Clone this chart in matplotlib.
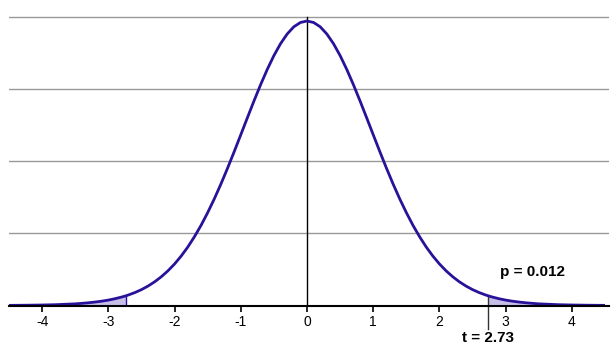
import numpy as np
import matplotlib
matplotlib.use("Agg")
import matplotlib.pyplot as plt

plt.rcParams['font.family'] = ['Liberation Sans', 'DejaVu Sans']

# density values (right half, mirrored for left)
x_half = [0.0, 0.1, 0.2, 0.3, 0.4, 0.5, 0.6, 0.7, 0.8, 0.9,
          1.0, 1.1, 1.2, 1.3, 1.4, 1.5, 1.6, 1.7, 1.8, 1.9,
          2.0, 2.1, 2.2, 2.3, 2.4, 2.5, 2.6, 2.7, 2.73, 2.8, 2.9,
          3.0, 3.1, 3.2, 3.3, 3.4, 3.5, 3.6, 3.7, 3.8, 3.9,
          4.0, 4.1, 4.2, 4.3, 4.4, 4.5]
y_half = [0.3946, 0.3925, 0.3865, 0.3765, 0.3631, 0.3466, 0.3275, 0.3064, 0.2839, 0.2605,
          0.2368, 0.2133, 0.1904, 0.1685, 0.1479, 0.1288, 0.1112, 0.0954, 0.0811, 0.0686,
          0.0576, 0.0481, 0.0399, 0.0329, 0.0270, 0.0220, 0.0179, 0.0145, 0.0136, 0.0117, 0.0094,
          0.0075, 0.0060, 0.0048, 0.0038, 0.0030, 0.0023, 0.0019, 0.0015, 0.0011, 0.0009,
          0.0007, 0.00056, 0.00043, 0.00034, 0.00026, 0.0002]
t_value = 2.73
p_label = "p = 0.012"
t_label = "t = 2.73"
xticks = [-4, -3, -2, -1, 0, 1, 2, 3, 4]
grid_y = [0.1, 0.2, 0.3, 0.4]

x = np.array([-v for v in x_half[::-1]] + x_half[1:])
y = np.array(y_half[::-1] + y_half[1:])

fig = plt.figure(figsize=(6.16, 3.6), dpi=100)
ax = fig.add_axes([9/616, 1 - 305.5/360, 600/616, 305.5/360])

for g in grid_y:
    ax.axhline(g, color='#999999', lw=1, zorder=1)

curve_col = '#2a1199'
fill_col = '#c6c0e8'
right = x >= t_value
left = x <= -t_value
ax.fill_between(x[right], 0, y[right], color=fill_col, lw=0, zorder=2)
ax.fill_between(x[left], 0, y[left], color=fill_col, lw=0, zorder=2)

ax.plot(x, y, color=curve_col, lw=2, zorder=4, solid_capstyle='butt')
ax.plot([0, 0], [0, 0.4], color='black', lw=1, zorder=3)
yt = y_half[x_half.index(t_value)]
ax.plot([-t_value, -t_value], [0, yt], color=curve_col, lw=1, zorder=3)
ax.plot([t_value, t_value], [-0.033, yt], color='#333333', lw=1, zorder=3,
        clip_on=False)

ax.set_xlim(-4.5, 4.56)
ax.set_ylim(0, 305.5/721)
for s in ['top', 'left', 'right']:
    ax.spines[s].set_visible(False)
ax.spines['bottom'].set_linewidth(1.5)
ax.spines['bottom'].set_zorder(5)
ax.set_yticks([])
ax.set_xticks(xticks)
ax.set_xticklabels([str(v) for v in xticks])
ax.tick_params(axis='x', direction='out', length=4, width=1.2, labelsize=10, pad=3)

ax.text(3.4, 0.046, p_label, fontsize=11, fontweight='bold', ha='center', va='center')
ax.text(t_value, -0.045, t_label, fontsize=11, fontweight='bold', ha='center',
        va='center', clip_on=False)

fig.savefig('out.png', dpi=100)
